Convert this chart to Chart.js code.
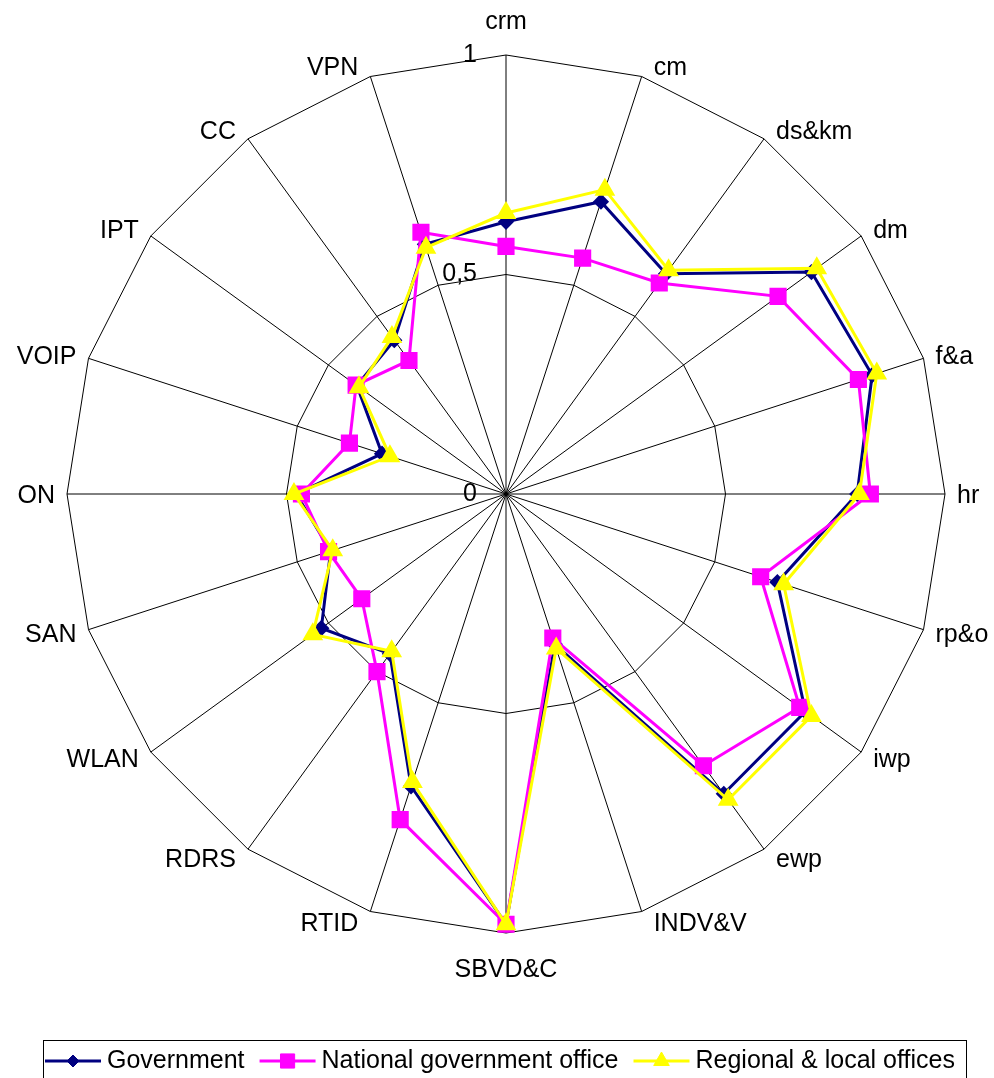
<!DOCTYPE html>
<html lang="en">
<head>
<meta charset="UTF-8">
<title>IT usage radar</title>
<script src="https://cdn.jsdelivr.net/npm/chart.js@4.4.1/dist/chart.umd.min.js"></script>
<style>
  html, body { margin: 0; padding: 0; background: #fff; }
</style>
</head>
<body>
<canvas id="myChart" width="994" height="1078"></canvas>
<script>
const categories = ['crm', 'cm', 'ds&km', 'dm', 'f&a', 'hr', 'rp&o', 'iwp', 'ewp', 'INDV&V',
                    'SBVD&C', 'RTID', 'RDRS', 'WLAN', 'SAN', 'ON', 'VOIP', 'IPT', 'CC', 'VPN'];

const government = [0.62, 0.70, 0.62, 0.86, 0.877, 0.80, 0.65, 0.843, 0.844, 0.36,
                    0.98, 0.70, 0.45, 0.52, 0.42, 0.478, 0.297, 0.42, 0.433, 0.598];
const national   = [0.564, 0.565, 0.594, 0.766, 0.844, 0.83, 0.61, 0.827, 0.765, 0.345,
                    0.98, 0.78, 0.50, 0.406, 0.425, 0.466, 0.375, 0.422, 0.376, 0.627];
const regional   = [0.64, 0.729, 0.63, 0.875, 0.888, 0.805, 0.665, 0.86, 0.861, 0.37,
                    0.98, 0.69, 0.443, 0.544, 0.415, 0.483, 0.278, 0.414, 0.442, 0.59];

const tickValues = [0, 0.5, 1];

const FONT = '"Liberation Sans", Arial, sans-serif';
Chart.defaults.font.family = FONT;
Chart.defaults.color = '#000';

// value labels sit left of the vertical axis, decimal comma
const tickLabels = {
    id: 'tickLabels',
    afterDraw(chart) {
        const r = chart.scales.r;
        const ctx = chart.ctx;
        ctx.save();
        ctx.font = '25px ' + FONT;
        ctx.fillStyle = '#000';
        ctx.textAlign = 'right';
        ctx.textBaseline = 'middle';
        tickValues.forEach(v => {
            const y = r.yCenter - r.getDistanceFromCenterForValue(v);
            ctx.fillText(String(v).replace('.', ','), r.xCenter - 29, y);
        });
        ctx.restore();
    }
};

// category names just outside each spoke: centred on the top/bottom spokes,
// otherwise pushed sideways off the outer ring
const spokeLabels = {
    id: 'spokeLabels',
    afterDraw(chart) {
        const r = chart.scales.r;
        const ctx = chart.ctx;
        ctx.save();
        ctx.font = '25px ' + FONT;
        ctx.fillStyle = '#000';
        ctx.textBaseline = 'middle';
        chart.data.labels.forEach((label, i) => {
            const p = r.getPointPosition(i, r.drawingArea);
            const a = p.angle + Math.PI / 2;
            const s = Math.sin(a), c = Math.cos(a);
            if (Math.abs(s) < 1e-6) {
                ctx.textAlign = 'center';
                ctx.fillText(label, p.x, p.y - 35 * c + 2);
            } else {
                ctx.textAlign = s > 0 ? 'left' : 'right';
                ctx.fillText(label, p.x + 12 * Math.sign(s), p.y - 11 * c + 2);
            }
        });
        ctx.restore();
    }
};

// boxed legend along the bottom: line with marker, then the name
const boxLegend = {
    id: 'boxLegend',
    afterDraw(chart) {
        const ctx = chart.ctx;
        const top = 1040.5, midY = 1061;
        ctx.save();
        ctx.strokeStyle = '#000';
        ctx.lineWidth = 1;
        ctx.strokeRect(43.5, top, 923, 60);
        ctx.font = '25px ' + FONT;
        ctx.textBaseline = 'middle';
        ctx.textAlign = 'left';
        let x = 45;
        chart.data.datasets.forEach(ds => {
            ctx.strokeStyle = ds.borderColor;
            ctx.fillStyle = ds.backgroundColor;
            ctx.lineWidth = 3;
            ctx.beginPath();
            ctx.moveTo(x, midY);
            ctx.lineTo(x + 56, midY);
            ctx.stroke();
            ctx.lineWidth = 1;
            Chart.helpers.drawPoint(ctx, {
                pointStyle: ds.pointStyle, radius: ds.pointRadius, rotation: 0, borderWidth: 1
            }, x + 28, midY);
            x += 62;
            ctx.fillStyle = '#000';
            ctx.fillText(ds.label, x, midY);
            x += ctx.measureText(ds.label).width + 15;
        });
        ctx.restore();
    }
};

new Chart('myChart', {
    type: 'radar',
    data: {
        labels: categories,
        datasets: [{
            label: 'Government',
            data: government,
            borderColor: '#000080',
            backgroundColor: '#000080',
            borderWidth: 3,
            pointStyle: 'rectRot',
            pointRadius: 6,
            order: 3
        }, {
            label: 'National government office',
            data: national,
            borderColor: '#FF00FF',
            backgroundColor: '#FF00FF',
            borderWidth: 3,
            pointStyle: 'rect',
            pointRadius: 10,
            order: 2
        }, {
            label: 'Regional & local offices',
            data: regional,
            borderColor: '#FFFF00',
            backgroundColor: '#FFFF00',
            borderWidth: 3,
            pointStyle: 'triangle',
            pointRadius: 9,
            order: 1
        }]
    },
    options: {
        responsive: false,
        animation: false,
        devicePixelRatio: 1,
        layout: { padding: { left: 67, right: 49, top: 55, bottom: 145 } },
        elements: { line: { tension: 0, fill: false } },
        plugins: {
            legend: { display: false },
            tooltip: { enabled: false }
        },
        scales: {
            r: {
                min: 0,
                max: 1,
                ticks: { display: false, stepSize: 0.5 },
                grid: { color: '#000', lineWidth: 1 },
                angleLines: { color: '#000', lineWidth: 1 },
                pointLabels: { display: false }
            }
        }
    },
    plugins: [tickLabels, spokeLabels, boxLegend]
});
</script>
</body>
</html>
